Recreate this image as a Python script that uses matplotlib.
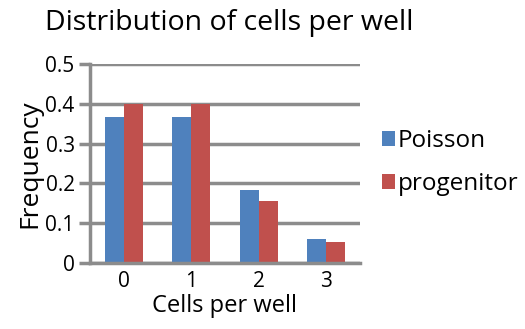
import numpy as np
import matplotlib
matplotlib.use("Agg")
import matplotlib.pyplot as plt

plt.rcParams['font.family'] = ['Open Sans', 'DejaVu Sans']

cells = ['0', '1', '2', '3']
poisson = [0.368, 0.368, 0.184, 0.061]
progenitor = [0.4, 0.4, 0.155, 0.054]
yticks = [0, 0.1, 0.2, 0.3, 0.4, 0.5]
ytick_labels = ['0', '0.1', '0.2', '0.3', '0.4', '0.5']

grid_color = '#8c8c8c'

fig = plt.figure(figsize=(5.25, 3.29), dpi=100)
ax = fig.add_axes([90 / 525, 1 - 263 / 329, 270 / 525, 199 / 329])

x = np.arange(len(cells))
w = 0.28
ax.bar(x - w / 2, poisson, w, color='#4f81bd', label='Poisson', zorder=3)
ax.bar(x + w / 2, progenitor, w, color='#c0504d', label='progenitor', zorder=3)

ax.set_xlim(-0.5, 3.5)
ax.set_ylim(0, 0.5)
ax.set_xticks(x)
ax.set_xticklabels(cells)
ax.set_yticks(yticks)
ax.set_yticklabels(ytick_labels)
ax.yaxis.grid(True, color=grid_color, linewidth=2.5, zorder=1)
ax.set_axisbelow(True)

for s in ['top', 'right']:
    ax.spines[s].set_visible(False)
for s in ['left', 'bottom']:
    ax.spines[s].set_color(grid_color)
    ax.spines[s].set_linewidth(2.5)
ax.spines['bottom'].set_zorder(4)

ax.tick_params(axis='y', length=8, width=2.5, color=grid_color, labelsize=15, pad=3)
ax.tick_params(axis='x', length=0, labelsize=15, pad=6)

ax.set_xlabel('Cells per well', fontsize=17, labelpad=1)
ax.set_ylabel('Frequency', fontsize=19, labelpad=2)
fig.text(45 / 525, 1 - 23 / 329, 'Distribution of cells per well', fontsize=20.5,
         ha='left', va='center')

ax.legend(loc='center left', bbox_to_anchor=(1.08, 0.505), frameon=False,
          fontsize=17.5, handlelength=0.55, handleheight=0.55, handletextpad=0.12,
          labelspacing=0.8, borderaxespad=0, borderpad=0)

fig.savefig('out.png', dpi=100)
